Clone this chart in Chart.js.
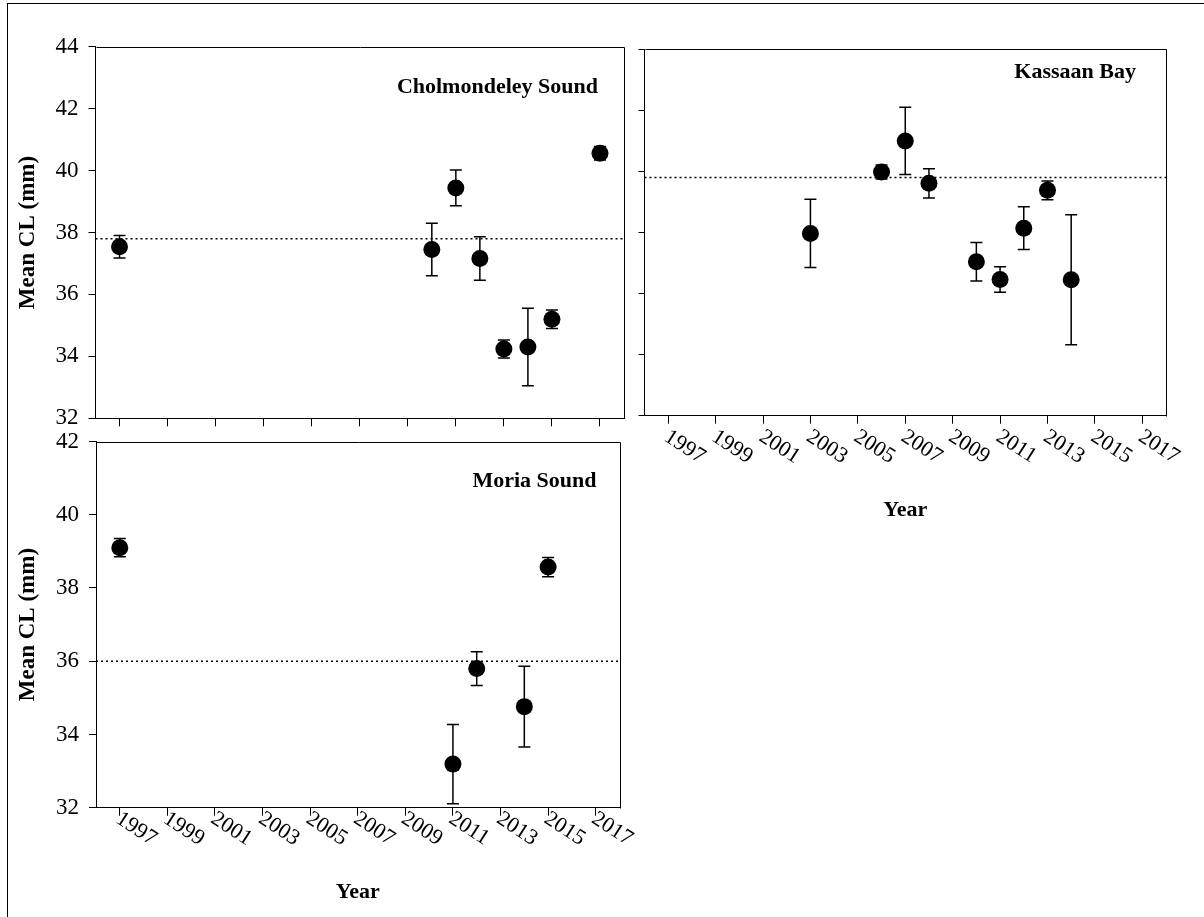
<!DOCTYPE html>
<html>
<head>
<meta charset="utf-8">
<script src="https://cdn.jsdelivr.net/npm/chart.js@4"></script>
<style>
  html, body { margin: 0; padding: 0; background: #fff; }
  body { width: 1204px; height: 917px; position: relative; overflow: hidden; }
  #frame { position: absolute; left: 7px; top: 3px; right: 0; bottom: 0; border-left: 1px solid #000; border-top: 1px solid #000; }
  canvas { position: absolute; }
</style>
</head>
<body>
<div id="frame"></div>
<canvas id="chol" width="640" height="440" style="left:0;top:0;width:640px;height:440px"></canvas>
<canvas id="kass" width="574" height="560" style="left:630px;top:0;width:574px;height:560px"></canvas>
<canvas id="moria" width="640" height="497" style="left:0;top:420px;width:640px;height:497px"></canvas>
<script>
// x axis range and year ticks
const xMin = 1996;
const xMax = 2018;
const yearTicks = [1997, 1999, 2001, 2003, 2005, 2007, 2009, 2011, 2013, 2015, 2017];

// Cholmondeley Sound
const cholYears = [1997, 2010, 2011, 2012, 2013, 2014, 2015, 2017];
const cholMeans = [37.54, 37.45, 39.44, 37.16, 34.24, 34.30, 35.20, 40.56];
const cholErrors = [0.36, 0.85, 0.58, 0.70, 0.29, 1.25, 0.30, 0.22];
const cholRef = 37.8;
const cholTicks = [32, 34, 36, 38, 40, 42, 44];

// Kassaan Bay
const kassYears = [2003, 2006, 2007, 2008, 2010, 2011, 2012, 2013, 2014];
const kassMeans = [37.97, 39.98, 41.00, 39.61, 37.04, 36.46, 38.14, 39.38, 36.45];
const kassErrors = [1.12, 0.23, 1.10, 0.48, 0.63, 0.42, 0.70, 0.31, 2.13];
const kassRef = 39.8;
const kassTicks = [32, 34, 36, 38, 40, 42, 44];

// Moria Sound
const moriaYears = [1997, 2011, 2012, 2014, 2015];
const moriaMeans = [39.10, 33.19, 35.80, 34.76, 38.57];
const moriaErrors = [0.25, 1.08, 0.46, 1.10, 0.26];
const moriaRef = 36.0;
const moriaTicks = [32, 34, 36, 38, 40, 42];

const serif = '"Liberation Serif", "Times New Roman", serif';
Chart.defaults.font.family = serif;
Chart.defaults.color = '#000';

// error bars, box, panel name and slanted year labels
function panelPlugin(p) {
  return {
    id: 'panel',
    beforeDatasetsDraw(chart) {
      const { ctx, scales: { x, y } } = chart;
      ctx.save();
      ctx.strokeStyle = '#000';
      ctx.lineWidth = 1.5;
      p.years.forEach((yr, i) => {
        const px = x.getPixelForValue(yr);
        const top = y.getPixelForValue(p.means[i] + p.errors[i]);
        const bot = y.getPixelForValue(p.means[i] - p.errors[i]);
        ctx.beginPath();
        ctx.moveTo(px, top); ctx.lineTo(px, bot);
        ctx.moveTo(px - 6, top); ctx.lineTo(px + 6, top);
        ctx.moveTo(px - 6, bot); ctx.lineTo(px + 6, bot);
        ctx.stroke();
      });
      ctx.restore();
    },
    afterDraw(chart) {
      const { ctx, chartArea: a, scales: { x } } = chart;
      ctx.save();
      ctx.strokeStyle = '#000';
      ctx.lineWidth = 1;
      ctx.beginPath();
      ctx.moveTo(Math.round(a.left) + 0.5, Math.round(a.top) + 0.5);
      ctx.lineTo(Math.round(a.right) + 0.5, Math.round(a.top) + 0.5);
      ctx.lineTo(Math.round(a.right) + 0.5, Math.round(a.bottom) + 0.5);
      ctx.stroke();

      ctx.fillStyle = '#000';
      ctx.font = 'bold 22px ' + serif;
      ctx.textAlign = 'right';
      ctx.textBaseline = 'alphabetic';
      ctx.fillText(p.label, a.right - p.labelDx, a.top + p.labelDy);

      if (p.yearLabels) {
        ctx.font = '22px ' + serif;
        ctx.textAlign = 'left';
        ctx.textBaseline = 'top';
        x.ticks.forEach(t => {
          ctx.save();
          ctx.translate(x.getPixelForValue(t.value) + p.tickDx, a.bottom + p.tickDy);
          ctx.rotate(33 * Math.PI / 180);
          ctx.fillText(String(t.value), 0, 0);
          ctx.restore();
        });
      }
      ctx.restore();
    }
  };
}

function makePanel(id, p) {
  const ctx = document.getElementById(id);
  new Chart(ctx, {
    type: 'scatter',
    data: {
      datasets: [{
        data: p.years.map((yr, i) => ({ x: yr, y: p.means[i] })),
        pointRadius: 8.5,
        pointBackgroundColor: '#000',
        pointBorderColor: '#000',
        pointBorderWidth: 0
      }, {
        type: 'line',
        data: [{ x: xMin, y: p.ref }, { x: xMax, y: p.ref }],
        showLine: true,
        borderColor: '#000',
        borderWidth: 1.5,
        borderDash: [2, 3],
        pointRadius: 0
      }]
    },
    options: {
      responsive: false,
      animation: false,
      devicePixelRatio: 1,
      layout: { padding: p.padding },
      plugins: { legend: { display: false }, tooltip: { enabled: false } },
      scales: {
        x: {
          type: 'linear',
          min: xMin,
          max: xMax,
          afterBuildTicks: s => { s.ticks = yearTicks.map(v => ({ value: v })); },
          afterFit: s => { s.height = p.xHeight; },
          ticks: { display: false },
          grid: { drawOnChartArea: false, drawTicks: true, tickLength: 8, color: '#000', lineWidth: 1 },
          border: { display: true, color: '#000', width: 1 },
          title: {
            display: p.xTitle,
            text: 'Year',
            font: { size: 22, weight: 'bold' },
            padding: { top: 0, bottom: p.xTitlePad }
          }
        },
        y: {
          type: 'linear',
          min: p.yTicks[0],
          max: p.yTicks[p.yTicks.length - 1],
          afterBuildTicks: s => { s.ticks = p.yTicks.map(v => ({ value: v })); },
          afterFit: s => { s.width = p.yWidth; },
          ticks: { display: p.yLabels, padding: 10, font: { size: 23, lineHeight: 1 } },
          grid: { drawOnChartArea: false, drawTicks: true, tickLength: p.yTickLen, color: '#000', lineWidth: 1 },
          border: { display: true, color: '#000', width: 1 },
          title: {
            display: p.yLabels,
            text: 'Mean CL (mm)',
            font: { size: 23, weight: 'bold' },
            padding: { top: 14.7, bottom: 0 }
          }
        }
      }
    },
    plugins: [panelPlugin(p)]
  });
}

makePanel('chol', {
  years: cholYears, means: cholMeans, errors: cholErrors, ref: cholRef, yTicks: cholTicks,
  label: 'Cholmondeley Sound', labelDx: 26, labelDy: 46,
  padding: { left: 0, right: 16, top: 46.7, bottom: 0 },
  yWidth: 95.5, yLabels: true, yTickLen: 7,
  xHeight: 21.7, xTitle: false, xTitlePad: 0, yearLabels: false
});

makePanel('kass', {
  years: kassYears, means: kassMeans, errors: kassErrors, ref: kassRef, yTicks: kassTicks,
  label: 'Kassaan Bay', labelDx: 30, labelDy: 29,
  padding: { left: 0, right: 38, top: 49.3, bottom: 0 },
  yWidth: 14.5, yLabels: false, yTickLen: 6,
  xHeight: 144.3, xTitle: true, xTitlePad: 36.2, yearLabels: true, tickDx: 4, tickDy: 10
});

makePanel('moria', {
  years: moriaYears, means: moriaMeans, errors: moriaErrors, ref: moriaRef, yTicks: moriaTicks,
  label: 'Moria Sound', labelDx: 23, labelDy: 45.5,
  padding: { left: 0, right: 20.5, top: 21.5, bottom: 0 },
  yWidth: 96, yLabels: true, yTickLen: 7,
  xHeight: 109.3, xTitle: true, xTitlePad: 11.2, yearLabels: true, tickDx: 4, tickDy: 0
});
</script>
</body>
</html>
